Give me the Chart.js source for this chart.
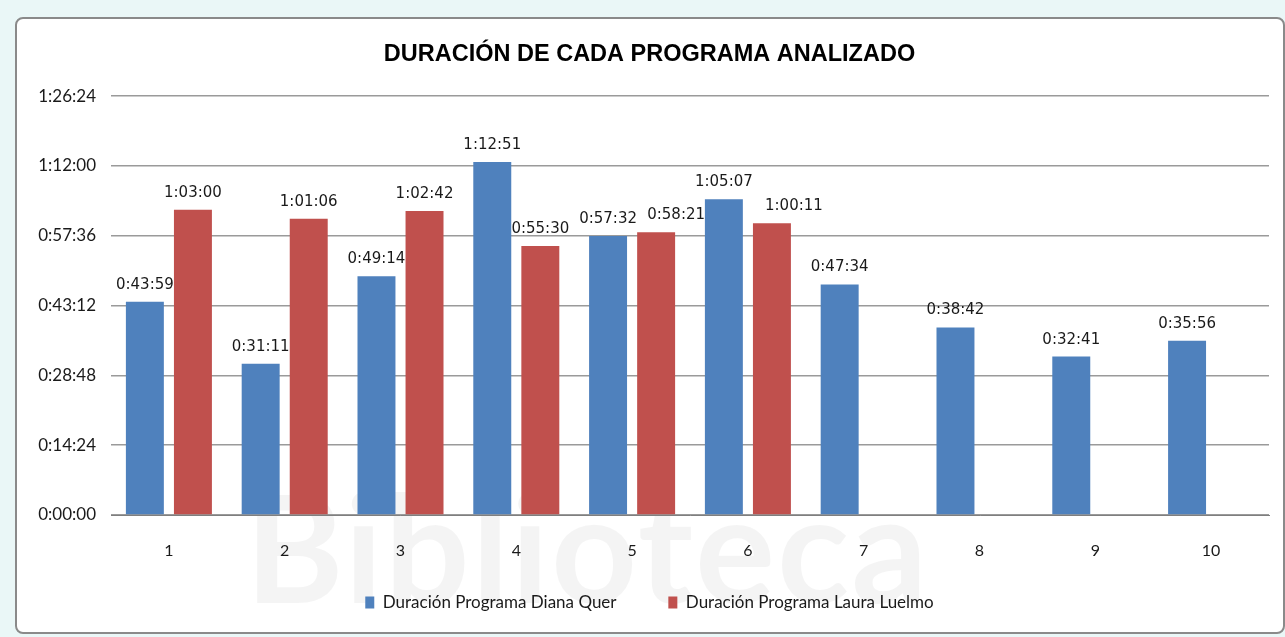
<!DOCTYPE html>
<html>
<head>
<meta charset="utf-8">
<script src="https://cdn.jsdelivr.net/npm/chart.js@4"></script>
<style>
    html, body { margin: 0; padding: 0; }
    body { width: 1285px; height: 637px; background: #eaf7f7; position: relative; overflow: hidden; }
    #frame {
        position: absolute; left: 15px; top: 17px; width: 1266px; height: 613px;
        background: #fff; border: 2px solid #8a8a8a; border-radius: 8px;
    }
    #mark {
        position: absolute; left: 245px; top: 455px; font: 700 150px Lato, sans-serif;
        color: rgba(0,0,0,0.045); letter-spacing: 2px; pointer-events: none;
    }
    #wrap { position: absolute; left: 0; top: 0; width: 1285px; height: 637px; }
</style>
</head>
<body>
<div id="frame"></div>
<div id="mark">Biblioteca</div>
<div id="wrap"><canvas id="durChart"></canvas></div>
<script>
    // Datos (segundos)
    const programas = ['1', '2', '3', '4', '5', '6', '7', '8', '9', '10'];
    const dianaQuer = [2639, 1871, 2954, 4371, 3452, 3907, 2854, 2322, 1961, 2156];
    const lauraLuelmo = [3780, 3666, 3762, 3330, 3501, 3611, null, null, null, null];
    const yTicks = [0, 864, 1728, 2592, 3456, 4320, 5184];

    // desplazamiento horizontal de algunas etiquetas (como en el original)
    const labelNudge = [[], [0, 0, 0, 0, 20, 22]];

    function fmtTime(sec) {
        const h = Math.floor(sec / 3600);
        const m = Math.floor((sec % 3600) / 60);
        const s = Math.round(sec % 60);
        return h + ':' + String(m).padStart(2, '0') + ':' + String(s).padStart(2, '0');
    }

    // Etiquetas encima de cada barra
    const barLabels = {
        id: 'barLabels',
        afterDatasetsDraw(chart) {
            const ctx = chart.ctx;
            ctx.save();
            ctx.font = '15px "DejaVu Sans", sans-serif';
            ctx.fillStyle = '#1a1a1a';
            ctx.textAlign = 'center';
            ctx.textBaseline = 'alphabetic';
            chart.data.datasets.forEach((ds, i) => {
                chart.getDatasetMeta(i).data.forEach((bar, j) => {
                    if (ds.data[j] == null) return;
                    const dx = labelNudge[i][j] || 0;
                    ctx.fillText(fmtTime(ds.data[j]), bar.x + dx, bar.y - 13);
                });
            });
            ctx.restore();
        }
    };

    document.addEventListener('DOMContentLoaded', function () {
        const ctx = document.getElementById('durChart').getContext('2d');
        new Chart(ctx, {
            type: 'bar',
            data: {
                labels: programas,
                datasets: [{
                    label: 'Duración Programa Diana Quer',
                    data: dianaQuer,
                    backgroundColor: '#4f81bd'
                }, {
                    label: 'Duración Programa Laura Luelmo',
                    data: lauraLuelmo,
                    backgroundColor: '#c0504d'
                }]
            },
            options: {
                responsive: true,
                maintainAspectRatio: false,
                animation: false,
                datasets: { bar: { barPercentage: 0.79, categoryPercentage: 0.83 } },
                layout: { padding: { left: 30, right: 16, top: 40, bottom: 16 } },
                plugins: {
                    title: {
                        display: true,
                        text: 'DURACIÓN DE CADA PROGRAMA ANALIZADO',
                        color: '#000',
                        font: { family: '"Liberation Sans", sans-serif', size: 23.5, weight: 'bold' },
                        padding: { top: 0, bottom: 28 }
                    },
                    legend: {
                        position: 'bottom',
                        labels: {
                            color: '#1a1a1a',
                            boxWidth: 9, boxHeight: 12,
                            padding: 17,
                            font: { family: 'Lato, sans-serif', size: 17 },
                            generateLabels(chart) {
                                const items = Chart.defaults.plugins.legend.labels.generateLabels(chart);
                                items.forEach((it, i) => {
                                    if (i < items.length - 1) it.text += '        ';
                                });
                                return items;
                            }
                        }
                    },
                    tooltip: { enabled: false }
                },
                scales: {
                    x: {
                        grid: { display: false, drawTicks: false },
                        border: { color: '#7f7f7f', width: 1 },
                        ticks: { color: '#1a1a1a', padding: 26, font: { family: 'Lato, sans-serif', size: 16 } },
                        afterFit(scale) { scale.height = 62; }
                    },
                    y: {
                        min: 0,
                        max: 5184,
                        afterBuildTicks(scale) { scale.ticks = yTicks.map(v => ({ value: v })); },
                        grid: { color: '#9a9a9a', lineWidth: 1.5, drawTicks: false },
                        border: { display: false },
                        ticks: {
                            color: '#1a1a1a', padding: 15,
                            font: { family: 'Lato, sans-serif', size: 17 },
                            callback: v => fmtTime(v)
                        },
                        afterFit(scale) { scale.width = 81; }
                    }
                }
            },
            plugins: [barLabels]
        });
    });
</script>
</body>
</html>
